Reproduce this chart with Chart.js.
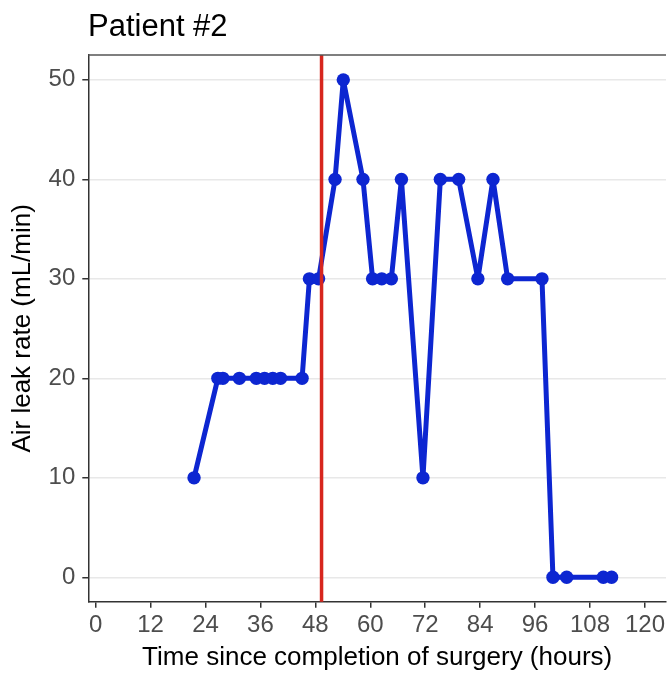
<!DOCTYPE html>
<html>
<head>
<meta charset="utf-8">
<title>Patient #2</title>
<script src="https://cdn.jsdelivr.net/npm/chart.js@4.4.1/dist/chart.umd.min.js"></script>
<style>
  html, body { margin: 0; padding: 0; background: #fff; overflow: hidden; }
  #wrap { width: 668px; height: 673px; }
</style>
</head>
<body>
<div id="wrap"><canvas id="leakChart" width="668" height="673"></canvas></div>
<script>
// hours after surgery and measured air leak (mL/min)
const hours = [21.5, 26.7, 27.8, 31.4, 35.1, 36.9, 38.7, 40.4, 45.1, 46.7, 48.7, 52.3, 54.1, 58.4, 60.5,
               62.5, 64.6, 66.8, 71.5, 75.3, 79.3, 83.5, 86.8, 90.0, 97.5, 99.9, 102.9, 110.9, 112.7];
const rates = [10, 20, 20, 20, 20, 20, 20, 20, 20, 30, 30, 40, 50, 40, 30,
               30, 30, 40, 10, 40, 40, 30, 40, 30, 30, 0, 0, 0, 0];
const hourTicks = [0, 12, 24, 36, 48, 60, 72, 84, 96, 108, 120];
const rateTicks = [0, 10, 20, 30, 40, 50];
const chestTubeOut = 49.35;
const patientLabel = 'Patient #2';

const FONT = "'Liberation Sans', Arial, sans-serif";
const BLUE = '#0d26d1';
const RED = '#d7261e';

const points = hours.map((h, i) => ({ x: h, y: rates[i] }));

// title, top panel border and the vertical marker line
const decorations = {
    id: 'decorations',
    afterDatasetsDraw(chart) {
        const { ctx, chartArea, scales } = chart;
        const x = scales.x.getPixelForValue(chestTubeOut);
        ctx.save();
        ctx.strokeStyle = RED;
        ctx.lineWidth = 3.5;
        ctx.beginPath();
        ctx.moveTo(x, chartArea.top);
        ctx.lineTo(x, chartArea.bottom);
        ctx.stroke();
        ctx.restore();
    },
    afterDraw(chart) {
        const { ctx, chartArea } = chart;
        ctx.save();
        ctx.strokeStyle = '#555';
        ctx.lineWidth = 1.5;
        ctx.beginPath();
        ctx.moveTo(chartArea.left, chartArea.top);
        ctx.lineTo(chartArea.right, chartArea.top);
        ctx.stroke();
        ctx.fillStyle = '#000';
        ctx.font = '31px ' + FONT;
        ctx.textBaseline = 'alphabetic';
        ctx.textAlign = 'left';
        ctx.fillText(patientLabel, 88, 36);
        ctx.restore();
    }
};

new Chart(document.getElementById('leakChart'), {
    type: 'line',
    data: {
        datasets: [{
            data: points,
            borderColor: BLUE,
            backgroundColor: BLUE,
            borderWidth: 5,
            borderJoinStyle: 'round',
            borderCapStyle: 'round',
            pointRadius: 6.7,
            pointBorderWidth: 0,
            pointHoverRadius: 6.7,
            tension: 0
        }]
    },
    options: {
        responsive: false,
        animation: false,
        events: [],
        layout: { autoPadding: false, padding: { top: 55, left: 0, right: 0, bottom: 0 } },
        plugins: { legend: { display: false }, tooltip: { enabled: false } },
        scales: {
            x: {
                type: 'linear',
                min: -1.6,
                max: 124.6,
                afterBuildTicks: (s) => { s.ticks = hourTicks.map(v => ({ value: v })); },
                afterFit: (s) => { s.height = 71.3; },
                grid: { drawOnChartArea: false, tickLength: 6, tickColor: '#333', lineWidth: 1.5 },
                border: { color: '#333', width: 1.5 },
                ticks: { color: '#4d4d4d', font: { family: FONT, size: 24 }, padding: 3, maxRotation: 0, autoSkip: false },
                title: {
                    display: true,
                    text: 'Time since completion of surgery (hours)',
                    color: '#000',
                    font: { family: FONT, size: 26 },
                    padding: { top: 3, bottom: 0 }
                }
            },
            y: {
                type: 'linear',
                min: -2.45,
                max: 52.5,
                afterBuildTicks: (s) => { s.ticks = rateTicks.map(v => ({ value: v })); },
                afterFit: (s) => { s.width = 88.3; },
                grid: { color: '#e8e8e8', tickLength: 6, tickColor: '#333', lineWidth: 1.5 },
                border: { color: '#333', width: 1.5 },
                ticks: { color: '#4d4d4d', font: { family: FONT, size: 24 }, padding: 7 },
                title: {
                    display: true,
                    text: 'Air leak rate (mL/min)',
                    color: '#000',
                    font: { family: FONT, size: 26 },
                    padding: { top: 7, bottom: 0 }
                }
            }
        }
    },
    plugins: [decorations]
});
</script>
</body>
</html>
